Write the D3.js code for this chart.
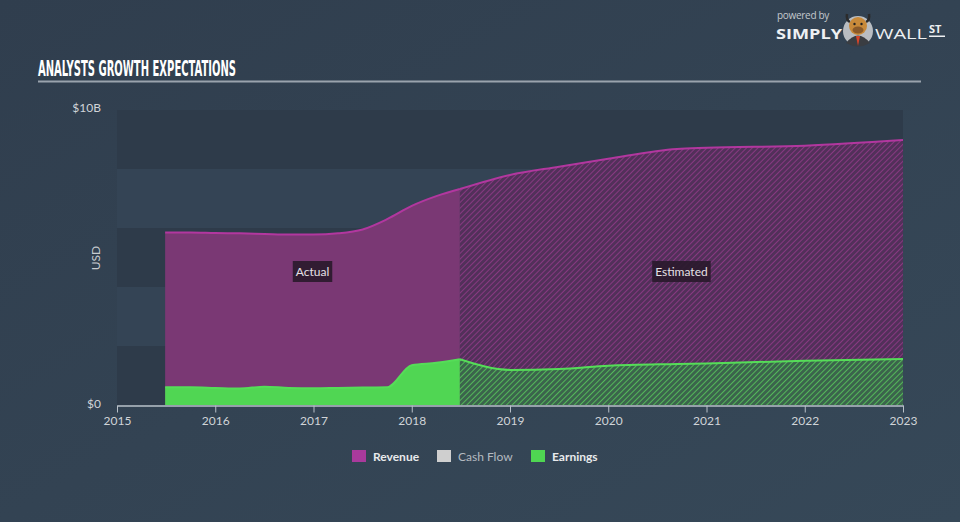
<!DOCTYPE html>
<html><head><meta charset="utf-8">
<script src="https://cdn.jsdelivr.net/npm/d3@7"></script>
<style>body{margin:0;background:#334354;} svg{display:block}</style>
</head><body><svg id="c" width="960" height="522"></svg>
<script>
// ---- data (values in billions USD) ----
const actualYears    = [2015.49, 2015.75, 2016.0, 2016.25, 2016.5, 2016.75, 2017.0, 2017.25, 2017.5, 2017.75, 2018.0, 2018.25, 2018.49];
const actualRevenue  = [5.85, 5.85, 5.83, 5.82, 5.80, 5.78, 5.78, 5.82, 5.95, 6.30, 6.75, 7.08, 7.32];
const actualEarnings = [0.60, 0.60, 0.58, 0.56, 0.62, 0.58, 0.57, 0.58, 0.59, 0.60, 1.35, 1.43, 1.55];
const estYears       = [2018.49, 2019.0, 2019.5, 2020.0, 2020.7, 2021.0, 2022.0, 2023.0];
const estRevenue     = [7.32, 7.80, 8.08, 8.35, 8.68, 8.72, 8.79, 8.98];
const estEarnings    = [1.55, 1.19, 1.22, 1.33, 1.39, 1.41, 1.50, 1.56];
const xTicks = [2015, 2016, 2017, 2018, 2019, 2020, 2021, 2022, 2023];
const yTicks = [0, 10];
const yTickLabels = ["$0", "$10B"];
const legendItems = ["Revenue", "Cash Flow", "Earnings"];
const legendColors = ["#a93a9c", "#cfcfcf", "#4fd652"];

const svg = d3.select("#c");
const W = 960, H = 522;
const defs = svg.append("defs");

const bg = defs.append("linearGradient").attr("id","bg").attr("x1","0").attr("y1","0").attr("x2","1").attr("y2","1");
bg.append("stop").attr("offset","0").attr("stop-color","#303e4e");
bg.append("stop").attr("offset","1").attr("stop-color","#364858");
svg.append("rect").attr("width",W).attr("height",H).attr("fill","url(#bg)");

function hatch(id, base, line){
  const p = defs.append("pattern").attr("id",id).attr("patternUnits","userSpaceOnUse")
    .attr("width",4).attr("height",4).attr("patternTransform","rotate(45)");
  p.append("rect").attr("width",4).attr("height",4).attr("fill",base);
  p.append("line").attr("x1",0).attr("y1",0).attr("x2",0).attr("y2",4).attr("stroke",line).attr("stroke-width",1.6);
}
hatch("hRev", "#52305a", "#953b8b");
hatch("hEarn", "#3b644c", "#5acd5e");

const x = d3.scaleLinear().domain([2015, 2023]).range([117, 903]);
const y = d3.scaleLinear().domain([0, 10]).range([405, 110]);

// background bands
const bandVals = [0,2,4,6,8];
svg.append("g").selectAll("rect").data(bandVals).join("rect")
  .attr("x", x(2015)).attr("width", x(2023)-x(2015))
  .attr("y", d => y(d+2)).attr("height", d => y(d)-y(d+2))
  .attr("fill", (d,i) => i%2===0 ? "#2e3b4a" : "#344455");

// title
svg.append("text").attr("x",38).attr("y",76).text("ANALYSTS GROWTH EXPECTATIONS")
  .attr("font-family","'DejaVu Sans Condensed','DejaVu Sans',sans-serif").attr("font-weight","bold")
  .attr("font-size",21).attr("fill","#ffffff").attr("textLength",198).attr("lengthAdjust","spacingAndGlyphs");
svg.append("rect").attr("x",38).attr("y",80.5).attr("width",883).attr("height",2).attr("fill","#9aa3ad");

const actual = actualYears.map((t,i)=>({t, r:actualRevenue[i], e:actualEarnings[i]}));
const est = estYears.map((t,i)=>({t, r:estRevenue[i], e:estEarnings[i]}));
const curve = d3.curveMonotoneX;
const areaR = d3.area().x(d=>x(d.t)).y0(y(0)).y1(d=>y(d.r)).curve(curve);
const areaE = d3.area().x(d=>x(d.t)).y0(y(0)).y1(d=>y(d.e)).curve(curve);
const lineR = d3.line().x(d=>x(d.t)).y(d=>y(d.r)).curve(curve);
const lineE = d3.line().x(d=>x(d.t)).y(d=>y(d.e)).curve(curve);

const g = svg.append("g");
g.append("path").datum(actual).attr("d",areaR).attr("fill","#7a3874");
g.append("path").datum(est).attr("d",areaR).attr("fill","url(#hRev)");
g.append("path").datum(actual).attr("d",areaE).attr("fill","#50d653");
g.append("path").datum(est).attr("d",areaE).attr("fill","url(#hEarn)");
g.append("path").datum(actual).attr("d",lineR).attr("fill","none").attr("stroke","#b2379f").attr("stroke-width",2);
g.append("path").datum(est).attr("d",lineR).attr("fill","none").attr("stroke","#b2379f").attr("stroke-width",2);
g.append("path").datum(actual).attr("d",lineE).attr("fill","none").attr("stroke","#55dd58").attr("stroke-width",2);
g.append("path").datum(est).attr("d",lineE).attr("fill","none").attr("stroke","#55dd58").attr("stroke-width",2);

// labels Actual / Estimated
function tag(cx, txt){
  const t = svg.append("text").attr("x",cx).attr("y",275.5).attr("text-anchor","middle")
    .attr("font-family","Lato, 'Open Sans', sans-serif").attr("font-size",12).attr("fill","#e6e0e6").text(txt);
  const bb = t.node().getBBox();
  svg.insert("rect", () => t.node()).attr("x",bb.x-3).attr("y",261).attr("width",bb.width+6).attr("height",21)
    .attr("fill","#2a1a2d").attr("opacity",0.92);
}
tag((x(actualYears[0])+x(2018.49))/2, "Actual");
tag((x(2018.49)+x(2023))/2, "Estimated");

// x axis
const xa = svg.append("g").attr("transform",`translate(0,${y(0)+0.5})`)
  .call(d3.axisBottom(x).tickValues(xTicks).tickFormat(d3.format("d")).tickSize(7).tickSizeOuter(0).tickPadding(4));
xa.select(".domain").attr("stroke","#b8c0c8").attr("stroke-width",1.5);
xa.selectAll(".tick line").attr("stroke","#b8c0c8");
xa.selectAll(".tick text").attr("fill","#d0d4d8").attr("font-size",12).attr("font-family","Lato, 'Open Sans', sans-serif");

// y axis
const ya = svg.append("g").attr("transform",`translate(${x(2015)},0)`)
  .call(d3.axisLeft(y).tickValues(yTicks).tickFormat((d,i)=>yTickLabels[i]).tickSize(0).tickPadding(16));
ya.select(".domain").remove();
ya.selectAll(".tick text").attr("fill","#d0d4d8").attr("font-size",12).attr("font-family","Lato, 'Open Sans', sans-serif")
  .attr("dy", (d)=> d===0 ? "0.2em" : "0.1em");
svg.append("text").attr("transform","translate(100,258) rotate(-90)").attr("text-anchor","middle")
  .attr("font-family","Lato, 'Open Sans', sans-serif").attr("font-size",12).attr("fill","#c8ccd0").text("USD");

// legend
const legX = [352, 437, 531];
const lg = svg.append("g");
legendItems.forEach((name,i)=>{
  lg.append("rect").attr("x",legX[i]).attr("y",450).attr("width",14).attr("height",12).attr("fill",legendColors[i]);
  lg.append("text").attr("x",legX[i]+21).attr("y",460.5).text(name)
    .attr("font-family","Lato, 'Open Sans', sans-serif").attr("font-size",12)
    .attr("font-weight", i===1 ? "normal" : "bold")
    .attr("fill", i===1 ? "#b4bac0" : "#e8eaec");
});

// logo
const lo = svg.append("g");
lo.append("text").attr("x",777).attr("y",19).text("powered by").attr("font-family","'Open Sans',sans-serif")
  .attr("font-size",10).attr("fill","#c4c9ce").attr("letter-spacing",-0.3);
lo.append("text").attr("x",776).attr("y",39).text("SIMPLY").attr("font-family","'Open Sans',sans-serif")
  .attr("font-weight","bold").attr("font-size",15).attr("fill","#eef0f2").attr("textLength",66).attr("lengthAdjust","spacingAndGlyphs");
lo.append("text").attr("x",875).attr("y",39).text("WALL").attr("font-family","'Open Sans',sans-serif")
  .attr("font-size",15).attr("fill","#eef0f2").attr("textLength",52).attr("lengthAdjust","spacingAndGlyphs");
lo.append("text").attr("x",929).attr("y",33).text("ST").attr("font-family","'Open Sans',sans-serif")
  .attr("font-weight","bold").attr("font-size",11).attr("fill","#eef0f2");
lo.append("rect").attr("x",929).attr("y",35.5).attr("width",16).attr("height",1.5).attr("fill","#eef0f2");
// bull
lo.append("circle").attr("cx",858).attr("cy",31).attr("r",15).attr("fill","#b9bdc2");
lo.append("path").attr("d","M846,43 Q858,28 870,43 Q858,50 846,43Z").attr("fill","#3a3d42");
lo.append("path").attr("d","M856,36 L858,46 L860,36Z").attr("fill","#d6452a");
lo.append("path").attr("d","M847,14 Q846,20 850,22 M869,14 Q870,20 866,22").attr("stroke","#2b2b2b").attr("stroke-width",2.5).attr("fill","none");
lo.append("ellipse").attr("cx",858).attr("cy",26).attr("rx",9).attr("ry",9).attr("fill","#c88a3a");
lo.append("ellipse").attr("cx",858).attr("cy",30).attr("rx",5.5).attr("ry",3.5).attr("fill","#8a5a2a");
lo.append("circle").attr("cx",854.5).attr("cy",24).attr("r",1.2).attr("fill","#222");
lo.append("circle").attr("cx",861.5).attr("cy",24).attr("r",1.2).attr("fill","#222");
</script></body></html>
